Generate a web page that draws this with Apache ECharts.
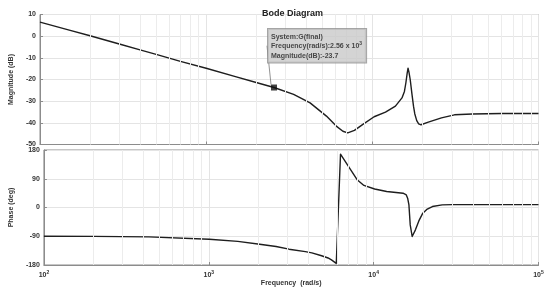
<!DOCTYPE html>
<html>
<head>
<meta charset="utf-8">
<script src="https://cdn.jsdelivr.net/npm/echarts@6/dist/echarts.min.js"></script>
<style>
  html, body { margin: 0; padding: 0; background: #fff; }
  #chart { width: 550px; height: 293px; }
</style>
</head>
<body>
<div id="chart"></div>
<script>
// frequency (rad/s) and magnitude (dB)
var magFreq = [100, 150, 200, 300, 400, 500, 700, 1000, 1500, 2000, 2560, 3360, 4220, 5293, 6067, 6650, 7113, 7800, 8730, 10250, 12000, 13770, 15080, 15600, 15920, 16200, 16400, 16600, 16900, 17300, 17690, 18000, 18500, 19000, 19630, 21720, 26060, 31200, 40000, 60000, 100000];
var magDb = [6.5, 2.8, 0.2, -3.6, -6.3, -8.4, -11.6, -14.8, -18.7, -21.4, -23.7, -26.9, -30.8, -36.9, -41.5, -43.9, -44.6, -43.5, -40.8, -37.2, -35.1, -32.3, -28.5, -25.5, -21.5, -17.2, -14.8, -16.5, -20, -26.5, -32.3, -35.8, -39, -40.5, -40.9, -39.7, -37.7, -36.3, -35.9, -35.7, -35.7];

// phase (deg)
var phFreq = [100, 200, 434, 1007, 1500, 2036, 2560, 3067, 3853, 4220, 4836, 5293, 5546, 5934, 6295, 6955, 7974, 8732, 10140, 12000, 15080, 15780, 16100, 16370, 16670, 17130, 17930, 18800, 19870, 21000, 22720, 26060, 29840, 100000];
var phDeg = [-90, -90.5, -92, -99.2, -106, -114.9, -122, -130.5, -138, -142, -151, -158, -164, -175, 167, 133, 86, 69, 58, 50, 44.8, 39.5, 28, 8, -54.5, -90.8, -70, -42, -17.8, -6, 3.1, 8.1, 9, 9];

// minor grid positions of the log axis
var minorGrid = [200, 300, 400, 500, 600, 700, 800, 900, 2000, 3000, 4000, 5000, 6000, 7000, 8000, 9000, 20000, 30000, 40000, 50000, 60000, 70000, 80000, 90000];

// data tip
var tipFreq = 2560;
var tipMag = -23.7;

var magTicks = { min: -50, max: 10, interval: 10 };
var phTicks = { min: -180, max: 180, interval: 90 };

function zip(a, b) {
  return a.map(function (v, i) { return [v, b[i]]; });
}

var font = 'Liberation Sans, Arial, sans-serif';
var lineCol = '#1e1e1e';
var gridCol = '#e4e4e4';
var boxCol = '#8c8c8c';

function xAxisCfg(idx, showLabels) {
  return {
    type: 'log',
    logBase: 10,
    gridIndex: idx,
    min: 100,
    max: 100000,
    axisLine: { show: true, onZero: false, lineStyle: { color: boxCol, width: 1 } },
    axisTick: { show: true, inside: true, length: 3, lineStyle: { color: boxCol } },
    splitLine: { show: true, lineStyle: { color: gridCol, width: 1 } },
    axisLabel: {
      show: showLabels,
      margin: 5,
      fontFamily: font,
      fontSize: 7,
      fontWeight: 'bold',
      color: '#333',
      formatter: function (v) {
        return '10{s|' + Math.round(Math.log10(v)) + '}';
      },
      rich: {
        s: { fontSize: 5, fontWeight: 'bold', color: '#333', padding: [0, 0, 5, 0] }
      }
    },
    name: showLabels ? 'Frequency  (rad/s)' : '',
    nameLocation: 'middle',
    nameGap: 14,
    nameTextStyle: { fontFamily: font, fontSize: 7, fontWeight: 'bold', color: '#333' }
  };
}

function yAxisCfg(idx, t, name) {
  return {
    type: 'value',
    gridIndex: idx,
    min: t.min,
    max: t.max,
    interval: t.interval,
    axisLine: { show: true, onZero: false, lineStyle: { color: boxCol, width: 1 } },
    axisTick: { show: true, inside: true, length: 3, lineStyle: { color: boxCol } },
    splitLine: { show: true, lineStyle: { color: gridCol, width: 1 } },
    axisLabel: {
      margin: 4,
      fontFamily: font,
      fontSize: 7,
      fontWeight: 'bold',
      color: '#333'
    },
    name: name,
    nameLocation: 'middle',
    nameGap: 18,
    nameTextStyle: { fontFamily: font, fontSize: 7, fontWeight: 'bold', color: '#333' }
  };
}

function minorLines(xIdx) {
  return {
    type: 'line',
    xAxisIndex: xIdx,
    yAxisIndex: xIdx,
    data: [],
    silent: true,
    markLine: {
      silent: true,
      symbol: 'none',
      label: { show: false },
      lineStyle: { color: '#ececec', width: 1, type: 'solid' },
      data: minorGrid.map(function (f) { return { xAxis: f }; })
    },
    z: 0
  };
}

var chart = echarts.init(document.getElementById('chart'), null, { renderer: 'canvas' });

chart.setOption({
  backgroundColor: '#fff',
  animation: false,
  title: {
    text: 'Bode Diagram',
    left: 257,
    top: 4,
    textStyle: { fontFamily: font, fontSize: 9, fontWeight: 'bold', color: '#222' }
  },
  grid: [
    { left: 32.5, right: 11.5, top: 14.5, height: 130, show: true, borderColor: boxCol, borderWidth: 1, backgroundColor: '#fff' },
    { left: 32.5, right: 11.5, top: 150, height: 115, show: true, borderColor: boxCol, borderWidth: 1, backgroundColor: '#fff' }
  ],
  xAxis: [xAxisCfg(0, false), xAxisCfg(1, true)],
  yAxis: [
    yAxisCfg(0, magTicks, 'Magnitude (dB)'),
    yAxisCfg(1, phTicks, 'Phase (deg)')
  ],
  series: [
    minorLines(0),
    minorLines(1),
    {
      type: 'line',
      xAxisIndex: 0,
      yAxisIndex: 0,
      data: zip(magFreq, magDb),
      showSymbol: false,
      lineStyle: { color: lineCol, width: 1.4, join: 'round' },
      z: 3
    },
    {
      type: 'line',
      xAxisIndex: 1,
      yAxisIndex: 1,
      data: zip(phFreq, phDeg),
      showSymbol: false,
      lineStyle: { color: lineCol, width: 1.4, join: 'round' },
      z: 3
    },
    {
      type: 'scatter',
      xAxisIndex: 0,
      yAxisIndex: 0,
      data: [[tipFreq, tipMag]],
      symbol: 'rect',
      symbolSize: 6,
      itemStyle: { color: '#111' },
      z: 5,
      label: {
        show: true,
        position: 'top',
        fontFamily: font,
        fontSize: 7,
        fontWeight: 'bold',
        color: '#222',
        lineHeight: 9.5,
        backgroundColor: '#c9c9c9',
        borderColor: '#8f8f8f',
        borderWidth: 1,
        padding: [3, 4, 2, 3],
        formatter: function (p) {
          var f = p.value[0] / 1000;
          return 'System:G(final)\nFrequency(rad/s):' + f.toFixed(2) + ' x 10{s|3}\nMagnitude(dB):' + p.value[1];
        },
        rich: {
          s: { fontSize: 5, fontWeight: 'bold', color: '#222', padding: [0, 0, 5, 0] }
        }
      },
      labelLayout: { x: 268, y: 29, align: 'left', verticalAlign: 'top' },
      labelLine: { show: true, lineStyle: { color: '#777', width: 0.8 } }
    }
  ]
});
</script>
</body>
</html>
